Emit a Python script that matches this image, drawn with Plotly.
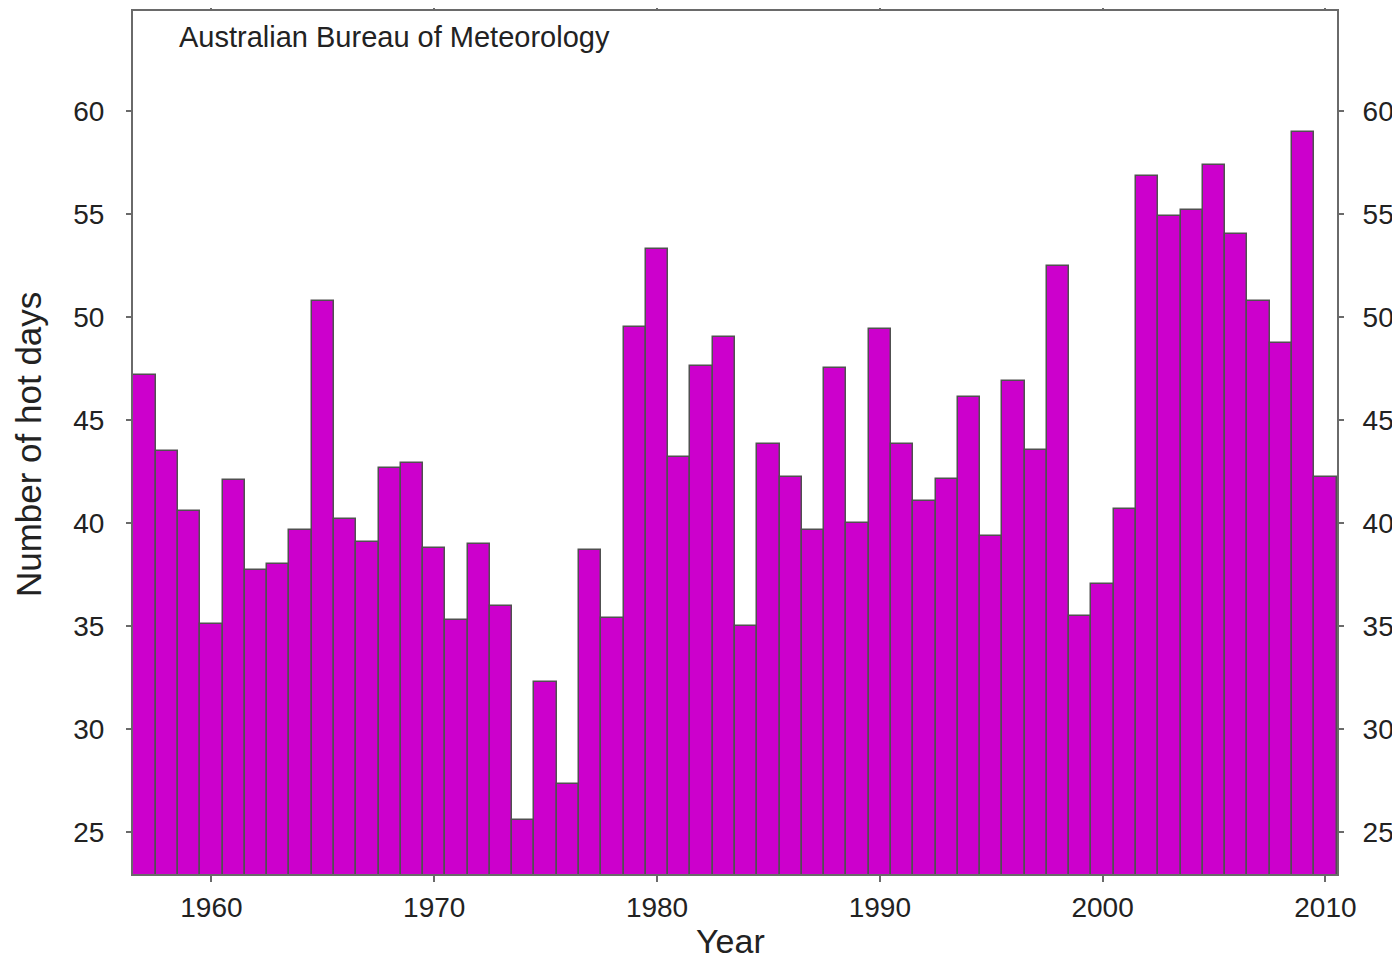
import plotly.graph_objects as go

years = list(range(1957, 2011))
hot_days = [
    47.2, 43.5, 40.6, 35.1, 42.1, 37.7, 38.0, 39.65, 50.8, 40.2,
    39.1, 42.65, 42.9, 38.8, 35.3, 39.0, 35.95, 25.55, 32.3, 27.3,
    38.7, 35.4, 49.5, 53.3, 43.2, 47.65, 49.05, 35.0, 43.85, 42.25,
    39.65, 47.55, 40.0, 49.4, 43.85, 41.05, 42.15, 46.1, 39.35, 46.9,
    43.55, 52.5, 35.5, 37.05, 40.7, 56.85, 54.9, 55.2, 57.4, 54.05,
    50.8, 48.75, 59.0, 42.25,
]
x_ticks = [1960, 1970, 1980, 1990, 2000, 2010]
y_ticks = [25, 30, 35, 40, 45, 50, 55, 60]

FONT = "Liberation Sans, Arial, sans-serif"
AXIS_COLOR = "#6a6a6a"
TEXT_COLOR = "#222222"

fig = go.Figure()
fig.add_trace(go.Bar(
    x=years, y=hot_days, width=1.0,
    marker=dict(color="#CC00CC", line=dict(color="#505050", width=1.5)),
    hoverinfo="x+y", showlegend=False,
))
# invisible trace to activate right-hand axis with labels
fig.add_trace(go.Scatter(
    x=years, y=hot_days, yaxis="y2", mode="markers",
    marker=dict(opacity=0), hoverinfo="skip", showlegend=False,
))

yrange = [22.95, 64.87]
fig.update_layout(
    width=1392, height=952,
    margin=dict(l=125, r=63, t=3, b=86, autoexpand=False),
    paper_bgcolor="white", plot_bgcolor="white",
    font=dict(family=FONT, color=TEXT_COLOR),
    bargap=0,
    xaxis=dict(
        range=[1956.48, 2010.52], tickvals=x_ticks, automargin=False,
        ticks="outside", ticklen=6, tickwidth=1.5, tickcolor=AXIS_COLOR,
        showline=True, linecolor=AXIS_COLOR, linewidth=2, mirror="ticks",
        showgrid=False, zeroline=False,
        tickfont=dict(size=28, family=FONT, color=TEXT_COLOR),
        ticklabelstandoff=1,
    ),
    yaxis=dict(
        range=yrange, tickvals=y_ticks, automargin=False,
        ticks="outside", ticklen=5, tickwidth=1.5, tickcolor=AXIS_COLOR,
        showline=True, linecolor=AXIS_COLOR, linewidth=2, mirror="ticks",
        showgrid=False, zeroline=False,
        tickfont=dict(size=28, family=FONT, color=TEXT_COLOR),
        ticklabelstandoff=16,
    ),
    yaxis2=dict(
        range=yrange, tickvals=y_ticks, overlaying="y", side="right", automargin=False,
        ticks="outside", ticklen=5, tickwidth=1.5, tickcolor=AXIS_COLOR,
        showline=True, linecolor=AXIS_COLOR, linewidth=2,
        showgrid=False, zeroline=False,
        tickfont=dict(size=28, family=FONT, color=TEXT_COLOR),
        ticklabelstandoff=13,
    ),
    annotations=[
        dict(
            text="Australian Bureau of Meteorology",
            xref="paper", yref="paper", x=0.0365, y=0.9695,
            xanchor="left", yanchor="middle", showarrow=False,
            font=dict(size=29, family=FONT, color=TEXT_COLOR),
        ),
        dict(
            text="Year",
            xref="paper", yref="paper", x=0.496, y=-0.0775,
            xanchor="center", yanchor="middle", showarrow=False,
            font=dict(size=34, family=FONT, color=TEXT_COLOR),
        ),
        dict(
            text="Number of hot days", textangle=-90,
            xref="paper", yref="paper", x=-0.0872, y=0.497,
            xanchor="center", yanchor="middle", showarrow=False,
            font=dict(size=35, family=FONT, color=TEXT_COLOR),
        ),
    ],
)

fig.write_html("out.html")
